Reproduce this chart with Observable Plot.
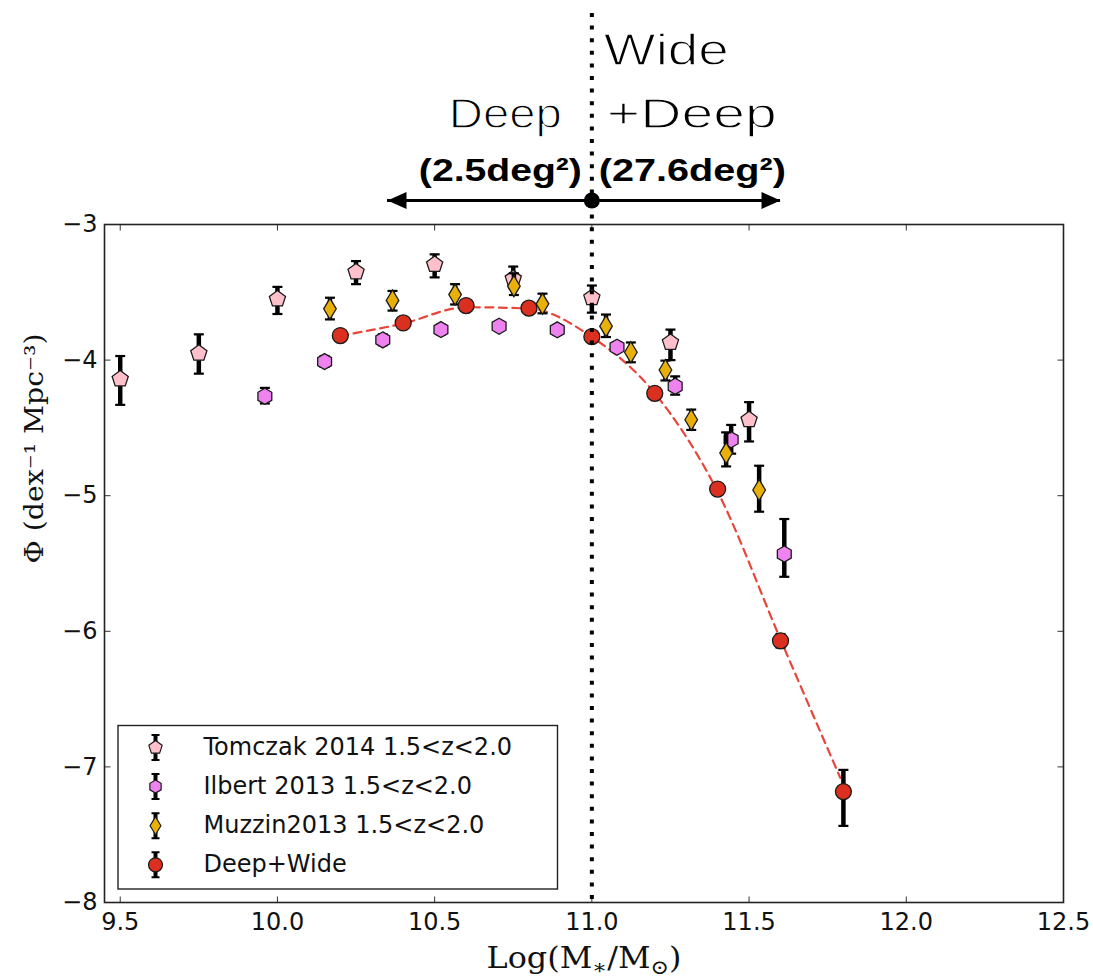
<!DOCTYPE html>
<html><head><meta charset="utf-8">
<script src="https://cdn.jsdelivr.net/npm/d3@7"></script>
<script src="https://cdn.jsdelivr.net/npm/@observablehq/plot@0.6"></script>
<style>body{margin:0;background:#fff}</style>
</head><body><div id="chart"></div>
<script>
// ---------- data ----------
const tomczakX  = [9.5, 9.75, 10.0, 10.25, 10.5, 10.75, 11.0, 11.25, 11.5];
const tomczakY  = [-4.14, -3.95, -3.55, -3.35, -3.295, -3.40, -3.54, -3.87, -4.44];
const tomczakLo = [-4.33, -4.10, -3.66, -3.44, -3.39, -3.47, -3.65, -4.00, -4.60];
const tomczakHi = [-3.97, -3.81, -3.46, -3.27, -3.22, -3.31, -3.45, -3.775, -4.31];

const ilbertX  = [9.96, 10.15, 10.335, 10.52, 10.705, 10.89, 11.08, 11.265, 11.443, 11.612];
const ilbertY  = [-4.267, -4.011, -3.851, -3.775, -3.75, -3.777, -3.905, -4.193, -4.587, -5.43];
const ilbertLo = [-4.32, -4.05, -3.89, -3.81, -3.78, -3.81, -3.94, -4.255, -4.69, -5.598];
const ilbertHi = [-4.205, -3.97, -3.81, -3.74, -3.72, -3.745, -3.87, -4.12, -4.478, -5.172];

const muzzinX  = [10.167, 10.366, 10.565, 10.752, 10.843, 11.045, 11.124, 11.234, 11.316, 11.427, 11.532];
const muzzinY  = [-3.622, -3.56, -3.517, -3.455, -3.585, -3.75, -3.942, -4.073, -4.44, -4.686, -4.958];
const muzzinLo = [-3.70, -3.635, -3.59, -3.52, -3.655, -3.83, -4.016, -4.15, -4.515, -4.784, -5.118];
const muzzinHi = [-3.54, -3.49, -3.44, -3.36, -3.51, -3.664, -3.87, -4.004, -4.365, -4.533, -4.779];

const deepWideX  = [10.2, 10.4, 10.6, 10.8, 11.0, 11.2, 11.4, 11.6, 11.8];
const deepWideY  = [-3.819, -3.726, -3.598, -3.617, -3.827, -4.245, -4.951, -6.07, -7.182];
const deepWideLo = [-3.84, -3.75, -3.62, -3.64, -3.85, -4.27, -4.98, -6.12, -7.435];
const deepWideHi = [-3.80, -3.70, -3.58, -3.60, -3.81, -4.22, -4.92, -6.02, -7.022];

// dashed fit curve
const fitX = [10.2, 10.4, 10.6, 10.8, 11.0, 11.2, 11.4, 11.6, 11.79];
const fitY = [-3.82, -3.73, -3.61, -3.62, -3.83, -4.245, -4.97, -6.06, -7.08];

const xTicks = [9.5, 10.0, 10.5, 11.0, 11.5, 12.0, 12.5];
const yTicks = [-8, -7, -6, -5, -4, -3];
const legendLabels = ["Tomczak 2014 1.5<z<2.0", "Ilbert 2013 1.5<z<2.0", "Muzzin2013 1.5<z<2.0", "Deep+Wide"];

const divider = 11.0;
const arrowFrom = 10.35, arrowTo = 11.6;
const leftTitle = ["Deep", "(2.5deg²)"];
const rightTitle = ["Wide", "+Deep", "(27.6deg²)"];
const xLabel = "Log(M∗/M⊙)";
const yLabel = "Φ (dex⁻¹ Mpc⁻³)";

// ---------- styles ----------
const colors = {tomczak: "#FFC0CB", ilbert: "#EE82EE", muzzin: "#E9B00A", deep: "#DB3020"};
const sans = "DejaVu Sans, Verdana, sans-serif";
const serif = "DejaVu Serif, Liberation Serif, serif";
const titleFont = "'Liberation Sans', Arial, Helvetica, sans-serif";
const boldFont = "'Liberation Sans', Arial, sans-serif";

// ---------- symbols ----------
const Rz = s => Math.sqrt(s / Math.PI);
const polygon = (n, rot) => ({draw(ctx, size) {
  const r = Rz(size);
  for (let i = 0; i < n; i++) {
    const a = rot + i * 2 * Math.PI / n;
    const px = r * Math.cos(a), py = r * Math.sin(a);
    if (i) ctx.lineTo(px, py); else ctx.moveTo(px, py);
  }
  ctx.closePath();
}});
const pentagon = polygon(5, -Math.PI / 2);
const hexagon = polygon(6, -Math.PI / 2);
const thinDiamond = {draw(ctx, size) {
  const r = Rz(size);
  ctx.moveTo(0, -r); ctx.lineTo(0.6 * r, 0); ctx.lineTo(0, r); ctx.lineTo(-0.6 * r, 0); ctx.closePath();
}};
const circle = {draw(ctx, size) { const r = Rz(size); ctx.moveTo(r, 0); ctx.arc(0, 0, r, 0, 2 * Math.PI); }};
const cap = {draw(ctx, size) { const r = Rz(size); ctx.moveTo(-r, 0); ctx.lineTo(r, 0); }};
const vbar = {draw(ctx, size) { const r = Rz(size); ctx.moveTo(0, -r); ctx.lineTo(0, r); }};
const capPair = {draw(ctx, size) { const r = Rz(size); ctx.moveTo(-4, -r); ctx.lineTo(4, -r); ctx.moveTo(-4, r); ctx.lineTo(4, r); }};
const tickUp = {draw(ctx, size) { const r = Rz(size); ctx.moveTo(0, 0); ctx.lineTo(0, -r); }};
const tickDown = {draw(ctx, size) { const r = Rz(size); ctx.moveTo(0, 0); ctx.lineTo(0, r); }};
const tickRight = {draw(ctx, size) { const r = Rz(size); ctx.moveTo(0, 0); ctx.lineTo(r, 0); }};
const tickLeft = {draw(ctx, size) { const r = Rz(size); ctx.moveTo(0, 0); ctx.lineTo(-r, 0); }};
const triLeft = {draw(ctx, size) { ctx.moveTo(0, 0); ctx.lineTo(19, -8.5); ctx.lineTo(19, 8.5); ctx.closePath(); }};
const triRight = {draw(ctx, size) { ctx.moveTo(0, 0); ctx.lineTo(-19, -8.5); ctx.lineTo(-19, 8.5); ctx.closePath(); }};

function series(X, Y, Lo, Hi, symbol, fill, r) {
  const data = X.map((x, i) => ({x, y: Y[i], lo: Lo[i], hi: Hi[i]}));
  return [
    Plot.ruleX(data, {x: "x", y1: "lo", y2: "hi", stroke: "black", strokeWidth: 4.5}),
    Plot.dot(data, {x: "x", y: "lo", symbol: cap, r: 5, stroke: "black", strokeWidth: 2.2, fill: "none"}),
    Plot.dot(data, {x: "x", y: "hi", symbol: cap, r: 5, stroke: "black", strokeWidth: 2.2, fill: "none"}),
    Plot.dot(data, {x: "x", y: "y", symbol, r, fill, stroke: "#1a1a1a", strokeWidth: 1.3})
  ];
}

const legendSymbols = [[pentagon, colors.tomczak, 7], [hexagon, colors.ilbert, 6.5], [thinDiamond, colors.muzzin, 9], [circle, colors.deep, 7]];
const legendMarks = legendLabels.flatMap((label, i) => {
  const dy = -155 + i * 39.1;
  const [sym, fill, r] = legendSymbols[i];
  return [
    Plot.dot([label], {frameAnchor: "bottom-left", dx: 51, dy, symbol: vbar, r: 12.5, stroke: "black", strokeWidth: 4, fill: "none"}),
    Plot.dot([label], {frameAnchor: "bottom-left", dx: 51, dy, symbol: capPair, r: 12.5, stroke: "black", strokeWidth: 2, fill: "none"}),
    Plot.dot([label], {frameAnchor: "bottom-left", dx: 51, dy, symbol: sym, r, fill, stroke: "#1a1a1a", strokeWidth: 1.2}),
    Plot.text([label], {frameAnchor: "bottom-left", dx: 99, dy, text: d => d, textAnchor: "start", lineAnchor: "middle", fontSize: 24, fontFamily: sans, fill: "#111"})
  ];
});

// thin ("light") title text: regular face with a white stroke painted over the fill
const light = {fontFamily: titleFont, fontWeight: 400, fill: "black", stroke: "white", strokeWidth: 1.3, paintOrder: "fill", lineAnchor: "bottom"};

const chart = Plot.plot({
  width: 1093, height: 980,
  marginLeft: 104, marginRight: 30, marginTop: 224, marginBottom: 78,
  x: {domain: [9.45, 12.5], axis: null},
  y: {domain: [-8, -3], axis: null},
  style: {background: "white", overflow: "visible"},
  marks: [
    // dashed fit
    Plot.line(fitX.map((x, i) => ({x, y: fitY[i]})), {x: "x", y: "y", curve: "monotone-x", stroke: "#E8463B", strokeWidth: 2.2, strokeDasharray: "8,5.5"}),
    ...series(tomczakX, tomczakY, tomczakLo, tomczakHi, pentagon, colors.tomczak, 8.5),
    ...series(ilbertX, ilbertY, ilbertLo, ilbertHi, hexagon, colors.ilbert, 8),
    ...series(muzzinX, muzzinY, muzzinLo, muzzinHi, thinDiamond, colors.muzzin, 10.5),
    ...series(deepWideX, deepWideY, deepWideLo, deepWideHi, circle, colors.deep, 8),
    // ticks (inward, all four sides)
    Plot.dot(xTicks, {x: d => d, y: () => -8, symbol: tickUp, r: 6, stroke: "#333", strokeWidth: 1, fill: "none"}),
    Plot.dot(xTicks, {x: d => d, y: () => -3, symbol: tickDown, r: 6, stroke: "#333", strokeWidth: 1, fill: "none"}),
    Plot.dot(yTicks, {y: d => d, x: () => 9.45, symbol: tickRight, r: 6, stroke: "#333", strokeWidth: 1, fill: "none"}),
    Plot.dot(yTicks, {y: d => d, x: () => 12.5, symbol: tickLeft, r: 6, stroke: "#333", strokeWidth: 1, fill: "none"}),
    Plot.frame({stroke: "#222", strokeWidth: 1.6}),
    // tick labels
    Plot.text(xTicks, {x: d => d, y: () => -8, dy: 20, text: d => d.toFixed(1), lineAnchor: "middle", fontSize: 24, fontFamily: sans, fill: "#111"}),
    Plot.text(yTicks, {y: d => d, x: () => 9.45, dx: -7, text: d => "\u2212" + Math.abs(d), textAnchor: "end", lineAnchor: "middle", fontSize: 24, fontFamily: sans, fill: "#111"}),
    // axis labels
    Plot.text([xLabel], {frameAnchor: "bottom", dy: 56, text: d => d, lineAnchor: "middle", fontSize: 29, fontFamily: serif, fill: "#111"}),
    Plot.text([yLabel], {frameAnchor: "left", dx: -70, rotate: -90, text: d => d, lineAnchor: "middle", fontSize: 26, fontFamily: serif, fill: "#111"}),
    // legend
    Plot.frame({insetLeft: 13.5, insetRight: 506, insetTop: 501, insetBottom: 13.5, stroke: "#222", strokeWidth: 1.4}),
    ...legendMarks,
    // annotation
    Plot.ruleY([-3], {x1: arrowFrom, x2: arrowTo, dy: -24, stroke: "black", strokeWidth: 3}),
    Plot.dot([arrowFrom], {x: d => d, y: () => -3, dy: -24, symbol: triLeft, r: 1, fill: "black", stroke: "none"}),
    Plot.dot([arrowTo], {x: d => d, y: () => -3, dy: -24, symbol: triRight, r: 1, fill: "black", stroke: "none"}),
    Plot.dot([divider], {x: d => d, y: () => -3, dy: -24, r: 8, fill: "black", stroke: "none"}),
    Plot.ruleX([divider], {x: d => d, insetTop: -211, stroke: "black", strokeWidth: 4, strokeDasharray: "4,8.6"}),
    Plot.text([leftTitle[0]], {x: () => divider, frameAnchor: "top", dx: -30, dy: -97, text: d => d, textAnchor: "end", fontSize: 43, ...light}),
    Plot.text([leftTitle[1]], {x: () => divider, frameAnchor: "top", dx: -10, dy: -44, text: d => d, textAnchor: "end", lineAnchor: "bottom", fontSize: 32, fontWeight: "bold", fontFamily: boldFont, fill: "black"}),
    Plot.text([rightTitle[0]], {x: () => divider, frameAnchor: "top", dx: 12, dy: -160, text: d => d, textAnchor: "start", fontSize: 45, ...light}),
    Plot.text([rightTitle[1]], {x: () => divider, frameAnchor: "top", dx: 15, dy: -97, text: d => d, textAnchor: "start", fontSize: 43, ...light}),
    Plot.text([rightTitle[2]], {x: () => divider, frameAnchor: "top", dx: 7, dy: -44, text: d => d, textAnchor: "start", lineAnchor: "bottom", fontSize: 32, fontWeight: "bold", fontFamily: boldFont, fill: "black"})
  ]
});
document.getElementById("chart").appendChild(chart);

// post-process: widths of annotation texts and math-style x label
const widths = {"Deep": 113, "(2.5deg²)": 163, "Wide": 125, "+Deep": 170, "(27.6deg²)": 187};
const svg = d3.select(chart);
svg.selectAll("text").each(function () {
  const t = this.textContent;
  if (widths[t]) d3.select(this).attr("textLength", widths[t]).attr("lengthAdjust", "spacingAndGlyphs");
  if (t === xLabel) {
    const el = d3.select(this);
    el.text(null);
    el.append("tspan").text("Log(M");
    el.append("tspan").attr("font-size", 20).attr("dy", 6).text("∗");
    el.append("tspan").attr("dy", -6).text("/M");
    el.append("tspan").attr("font-size", 20).attr("dy", 6).text("⊙");
    el.append("tspan").attr("dy", -6).text(")");
    el.attr("textLength", 195).attr("lengthAdjust", "spacingAndGlyphs");
  }
  if (t === yLabel) d3.select(this).attr("textLength", 230).attr("lengthAdjust", "spacingAndGlyphs");
});
</script>
</body></html>
